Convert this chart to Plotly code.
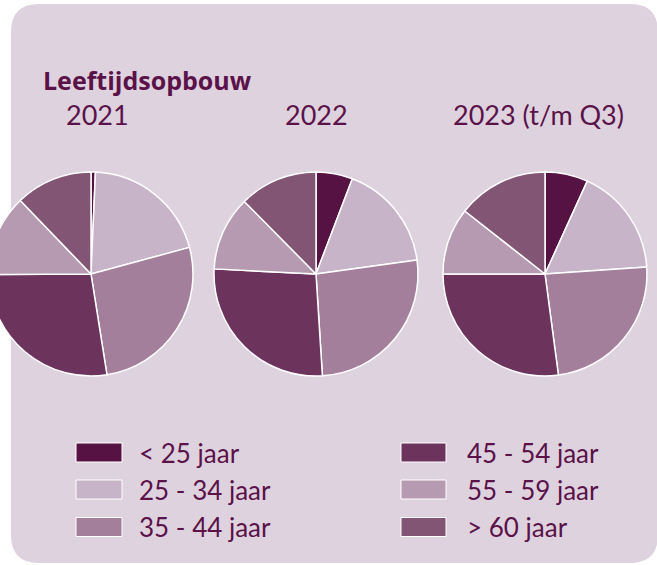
import plotly.graph_objects as go

# ---- data ----
categories = ["< 25 jaar", "25 - 34 jaar", "35 - 44 jaar", "45 - 54 jaar", "55 - 59 jaar", "> 60 jaar"]
colors = ["#561243", "#c8b4c8", "#a37f9b", "#6c335d", "#b69ab1", "#835574"]
values_2021 = [0.7, 20.1, 26.7, 27.4, 12.9, 12.2]
values_2022 = [5.8, 17.0, 26.2, 26.8, 11.8, 12.4]
values_2023 = [6.8, 17.1, 24.0, 27.1, 10.6, 14.4]
years = ["2021", "2022", "2023 (t/m Q3)"]
title_text = "Leeftijdsopbouw"

# ---- layout geometry (page pixels) ----
PAGE_W, H = 657, 565
SHIFT = 11                # first pie overflows the left edge of the page
W = PAGE_W + SHIFT
TXT = "#5a1249"
BG = "#dfd2df"
FONT = "Lato"

def px(x):
    return (x + SHIFT) / W

def py(y):
    return 1 - y / H

R = 102
centers_x = [91, 316, 545]
center_y = 274
label_x = [97.5, 316, 538]

fig = go.Figure()
for vals, cx in zip([values_2021, values_2022, values_2023], centers_x):
    fig.add_trace(go.Pie(
        labels=categories, values=vals, sort=False, direction="clockwise", rotation=0,
        marker=dict(colors=colors, line=dict(color="white", width=1.5)),
        textinfo="none", hoverinfo="label+percent", showlegend=False,
        domain=dict(x=[max(0, px(cx - R)), px(cx + R)], y=[py(center_y + R), py(center_y - R)]),
    ))

# rounded background panel
x0, x1, y0, y1, rc = 11, 658, 4, 563, 28
path = (
    f"M {px(x0 + rc)} {py(y0)} L {px(x1 - rc)} {py(y0)} "
    f"Q {px(x1)} {py(y0)} {px(x1)} {py(y0 + rc)} "
    f"L {px(x1)} {py(y1 - rc)} Q {px(x1)} {py(y1)} {px(x1 - rc)} {py(y1)} "
    f"L {px(x0 + rc)} {py(y1)} Q {px(x0)} {py(y1)} {px(x0)} {py(y1 - rc)} "
    f"L {px(x0)} {py(y0 + rc)} Q {px(x0)} {py(y0)} {px(x0 + rc)} {py(y0)} Z"
)
shapes = [dict(type="path", xref="paper", yref="paper", path=path,
               fillcolor=BG, line=dict(width=0), layer="below")]

annotations = [dict(text=f"<b>{title_text}</b>", x=px(41), y=py(80), xref="paper", yref="paper",
                    xanchor="left", yanchor="middle", showarrow=False,
                    font=dict(family="Open Sans", size=25, color=TXT))]
for yr, lx in zip(years, label_x):
    annotations.append(dict(text=yr, x=px(lx), y=py(115), xref="paper", yref="paper",
                            xanchor="center", yanchor="middle", showarrow=False,
                            font=dict(family=FONT, size=27, color=TXT)))

# manual two-column legend
box_x = [(76, 122), (401, 446)]
text_x = [139, 467]
row_y = [452.5, 489.5, 527]
for i, (cat, col) in enumerate(zip(categories, colors)):
    c, r = divmod(i, 3)
    bx0, bx1 = box_x[c]
    yy = row_y[r]
    shapes.append(dict(type="rect", xref="paper", yref="paper",
                       x0=px(bx0), x1=px(bx1), y0=py(yy + 9.5), y1=py(yy - 9.5),
                       fillcolor=col, line=dict(color="white", width=1)))
    annotations.append(dict(text=cat, x=px(text_x[c] - 2), y=py(yy), xref="paper", yref="paper",
                            xanchor="left", yanchor="middle", showarrow=False,
                            font=dict(family=FONT, size=26, color=TXT)))

fig.update_layout(
    width=W, height=H, margin=dict(l=0, r=0, t=0, b=0),
    paper_bgcolor="white", plot_bgcolor="white",
    shapes=shapes, annotations=annotations, showlegend=False,
)

fig.write_html(
    "out.html",
    config={"displayModeBar": False},
    post_script=(
        "document.body.style.margin='0';"
        "document.getElementById('{plot_id}').style.marginLeft='-%dpx';" % SHIFT
    ),
)
